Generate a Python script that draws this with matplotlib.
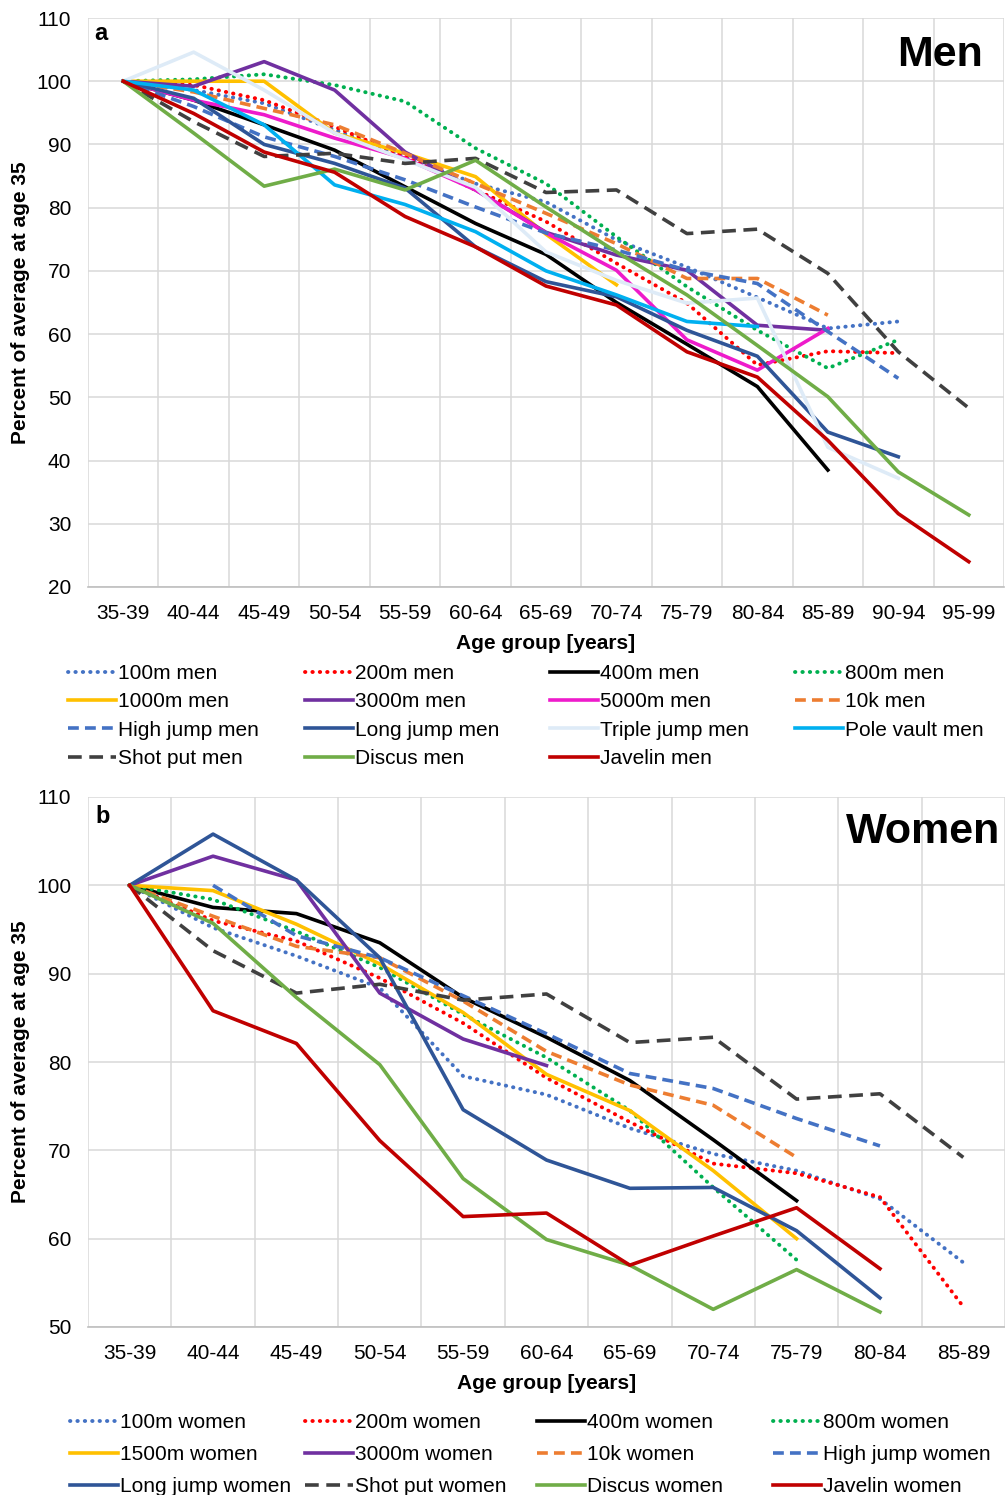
import numpy as np
import matplotlib
matplotlib.use("Agg")
import matplotlib.pyplot as plt

plt.rcParams['font.family'] = ['Liberation Sans', 'DejaVu Sans']

W, H = 1005, 1495
nan = np.nan

# ---- data (percent of average at age 35) ----
men_ages = ['35-39', '40-44', '45-49', '50-54', '55-59', '60-64', '65-69',
            '70-74', '75-79', '80-84', '85-89', '90-94', '95-99']
women_ages = men_ages[:11]

men_100m = [100, 98.6, 96.5, 92.3, 88.1, 83.8, 80.9, 74.9, 70.6, 65.8, 60.9, 62.0, nan]
men_200m = [100, 99.4, 97.0, 92.8, 88.1, 82.8, 77.8, 71.2, 64.9, 55.1, 57.3, 57.0, nan]
men_400m = [100, 97.0, 93.1, 89.1, 83.3, 77.5, 72.6, 65.0, 58.4, 51.7, 38.5, nan, nan]
men_800m = [100, 100.3, 101.1, 99.4, 96.8, 89.4, 83.8, 75.4, 67.5, 60.6, 54.6, 59.1, nan]
men_1000m = [100, 100, 100, 91.8, 88.6, 84.9, 75.8, 67.8, nan, nan, nan, nan, nan]
men_3000m = [100, 99.2, 103.1, 98.6, 88.8, 82.8, 76.1, 72.5, 70.1, 61.4, 60.6, nan, nan]
men_5000m = [100, 97.0, 94.7, 91.0, 87.8, 82.8, 76.0, 70.1, 59.1, 54.3, 60.9, nan, nan]
men_10k = [100, 98.3, 95.7, 93.1, 88.6, 83.8, 79.1, 74.3, 68.8, 68.8, 63.0, nan, nan]
men_high = [100, 96.0, 91.2, 88.1, 84.4, 80.1, 76.0, 73.3, 70.1, 68.0, 60.4, 53.0, nan]
men_long = [100, 97.3, 90.0, 87.0, 83.1, 73.8, 68.3, 65.9, 60.6, 56.5, 44.5, 40.6, nan]
men_triple = [100, 104.6, 98.6, 91.8, 87.6, 83.2, 73.0, 68.5, 64.9, 65.7, 42.1, 37.2, nan]
men_pole = [100, 98.6, 93.1, 83.6, 80.5, 76.2, 70.0, 66.2, 62.0, 61.2, nan, nan, nan]
men_shot = [100, 93.6, 88.1, 88.6, 87.0, 87.8, 82.4, 82.8, 75.9, 76.6, 69.6, 57.2, 48.3]
men_discus = [100, 91.8, 83.4, 86.1, 82.8, 87.5, 80.1, 73.0, 66.2, 58.2, 50.1, 38.2, 31.4]
men_javelin = [100, 94.9, 88.8, 85.6, 78.6, 73.8, 67.6, 64.6, 57.2, 53.2, 43.2, 31.6, 24.0]

women_100m = [100, 95.2, 92.0, 88.4, 78.4, 76.3, 72.5, 69.6, 67.7, 64.5, 57.3]
women_200m = [100, 96.0, 93.7, 89.5, 84.4, 78.2, 73.2, 68.5, 67.4, 64.7, 52.3]
women_400m = [100, 97.5, 96.8, 93.5, 87.3, 82.8, 77.9, 71.2, 64.3, nan, nan]
women_800m = [100, 98.4, 94.8, 90.7, 85.4, 80.5, 74.5, 65.8, 57.6, nan, nan]
women_1500m = [100, 99.4, 95.6, 91.1, 85.6, 78.6, 74.5, 67.7, 60.0, nan, nan]
women_3000m = [100, 103.3, 100.6, 87.8, 82.6, 79.6, nan, nan, nan, nan, nan]
women_10k = [100, 96.5, 93.1, 91.8, 86.9, 81.2, 77.4, 75.1, 69.2, nan, nan]
women_high = [nan, 100, 94.3, 91.8, 87.5, 83.2, 78.7, 77.0, 73.6, 70.5, nan]
women_long = [100, 105.8, 100.6, 91.8, 74.6, 68.9, 65.7, 65.8, 60.9, 53.3, nan]
women_shot = [100, 92.6, 87.8, 88.8, 87.0, 87.7, 82.2, 82.8, 75.8, 76.4, 69.2]
women_discus = [100, 95.7, 87.3, 79.7, 66.8, 59.9, 57.0, 52.0, 56.5, 51.7, nan]
women_javelin = [100, 85.8, 82.1, 71.1, 62.5, 62.9, 57.0, 60.3, 63.5, 56.6, nan]

STYLES = {
    'solid': dict(linestyle='-', lw=2.6),
    'dot': dict(linestyle=(0, (0.1, 1.8)), dash_capstyle='round', lw=2.8),
    'dash': dict(linestyle=(0, (3.0, 1.7)), lw=2.6),
    'longdash': dict(linestyle=(0, (3.8, 2.1)), lw=2.6),
}

men_series = [
    ('100m men', men_100m, '#4472C4', 'dot'),
    ('200m men', men_200m, '#FF0000', 'dot'),
    ('400m men', men_400m, '#000000', 'solid'),
    ('800m men', men_800m, '#00B050', 'dot'),
    ('1000m men', men_1000m, '#FFC000', 'solid'),
    ('3000m men', men_3000m, '#7030A0', 'solid'),
    ('5000m men', men_5000m, '#EE1BCB', 'solid'),
    ('10k men', men_10k, '#ED7D31', 'dash'),
    ('High jump men', men_high, '#4472C4', 'dash'),
    ('Long jump men', men_long, '#2F5597', 'solid'),
    ('Triple jump men', men_triple, '#DEEBF7', 'solid'),
    ('Pole vault men', men_pole, '#00B0F0', 'solid'),
    ('Shot put men', men_shot, '#404040', 'longdash'),
    ('Discus men', men_discus, '#70AD47', 'solid'),
    ('Javelin men', men_javelin, '#C00000', 'solid'),
]

women_series = [
    ('100m women', women_100m, '#4472C4', 'dot'),
    ('200m women', women_200m, '#FF0000', 'dot'),
    ('400m women', women_400m, '#000000', 'solid'),
    ('800m women', women_800m, '#00B050', 'dot'),
    ('1500m women', women_1500m, '#FFC000', 'solid'),
    ('3000m women', women_3000m, '#7030A0', 'solid'),
    ('10k women', women_10k, '#ED7D31', 'dash'),
    ('High jump women', women_high, '#4472C4', 'dash'),
    ('Long jump women', women_long, '#2F5597', 'solid'),
    ('Shot put women', women_shot, '#404040', 'longdash'),
    ('Discus women', women_discus, '#70AD47', 'solid'),
    ('Javelin women', women_javelin, '#C00000', 'solid'),
]


def px_box(left, top, right, bottom):
    return [left / W, 1 - bottom / H, (right - left) / W, (bottom - top) / H]


def draw_panel(ax, ages, series, ymin):
    x = np.arange(len(ages))
    lines = []
    for name, vals, color, style in series:
        ln, = ax.plot(x, vals, color=color, label=name, **STYLES[style])
        lines.append(ln)
    ax.set_xlim(-0.5, len(ages) - 0.5)
    ax.set_ylim(ymin, 110)
    ax.set_yticks(np.arange(ymin, 111, 10))
    ax.set_xticks(x)
    ax.set_xticklabels(ages)
    ax.set_xticks(np.arange(-0.5, len(ages)), minor=True)
    ax.grid(True, which='minor', axis='x', color='#D9D9D9', lw=1.1)
    ax.grid(True, which='major', axis='y', color='#D9D9D9', lw=1.1)
    ax.grid(False, which='major', axis='x')
    ax.set_axisbelow(True)
    for s in ['top', 'right', 'left']:
        ax.spines[s].set_visible(False)
    ax.spines['bottom'].set_color('#BFBFBF')
    ax.spines['bottom'].set_linewidth(1.2)
    ax.tick_params(which='both', length=0)
    ax.tick_params(axis='x', pad=12, labelsize=15, colors='#000000')
    ax.tick_params(axis='y', pad=12, labelsize=15, colors='#000000')
    ax.set_xlabel('Age group [years]', fontsize=15, fontweight='bold', labelpad=8)
    ax.set_ylabel('Percent of average at age 35', fontsize=15, fontweight='bold')
    ax.yaxis.set_label_coords(-0.063, 0.5)
    return lines


def add_legend(fig, lines, col_x, top, spacing):
    ncol = len(col_x)
    for c, xpx in enumerate(col_x):
        hs = lines[c::ncol]
        fig.legend(hs, [h.get_label() for h in hs], loc='upper left',
                   bbox_to_anchor=(xpx / W, 1 - top / H), frameon=False,
                   fontsize=15, handlelength=2.3, handletextpad=0.1,
                   labelspacing=spacing, borderpad=0, borderaxespad=0)


fig = plt.figure(figsize=(W / 100, H / 100), dpi=100)

ax1 = fig.add_axes(px_box(88, 18, 1004, 587))
men_lines = draw_panel(ax1, men_ages, men_series, 20)
ax1.text(0.0066, 0.9613, 'a', transform=ax1.transAxes, fontsize=17,
         fontweight='bold', ha='left', va='baseline')
ax1.text(0.977, 0.9156, 'Men', transform=ax1.transAxes, fontsize=31,
         fontweight='bold', ha='right', va='baseline')
add_legend(fig, men_lines, [68, 305, 550, 795], 664, 0.45)

ax2 = fig.add_axes(px_box(88, 797, 1005, 1327))
women_lines = draw_panel(ax2, women_ages, women_series, 50)
ax2.text(0.0076, 0.951, 'b', transform=ax2.transAxes, fontsize=17,
         fontweight='bold', ha='left', va='baseline')
ax2.text(0.9945, 0.913, 'Women', transform=ax2.transAxes, fontsize=31,
         fontweight='bold', ha='right', va='baseline')
add_legend(fig, women_lines, [70, 305, 537, 773], 1413, 0.62)

fig.savefig('out.png', dpi=100)
